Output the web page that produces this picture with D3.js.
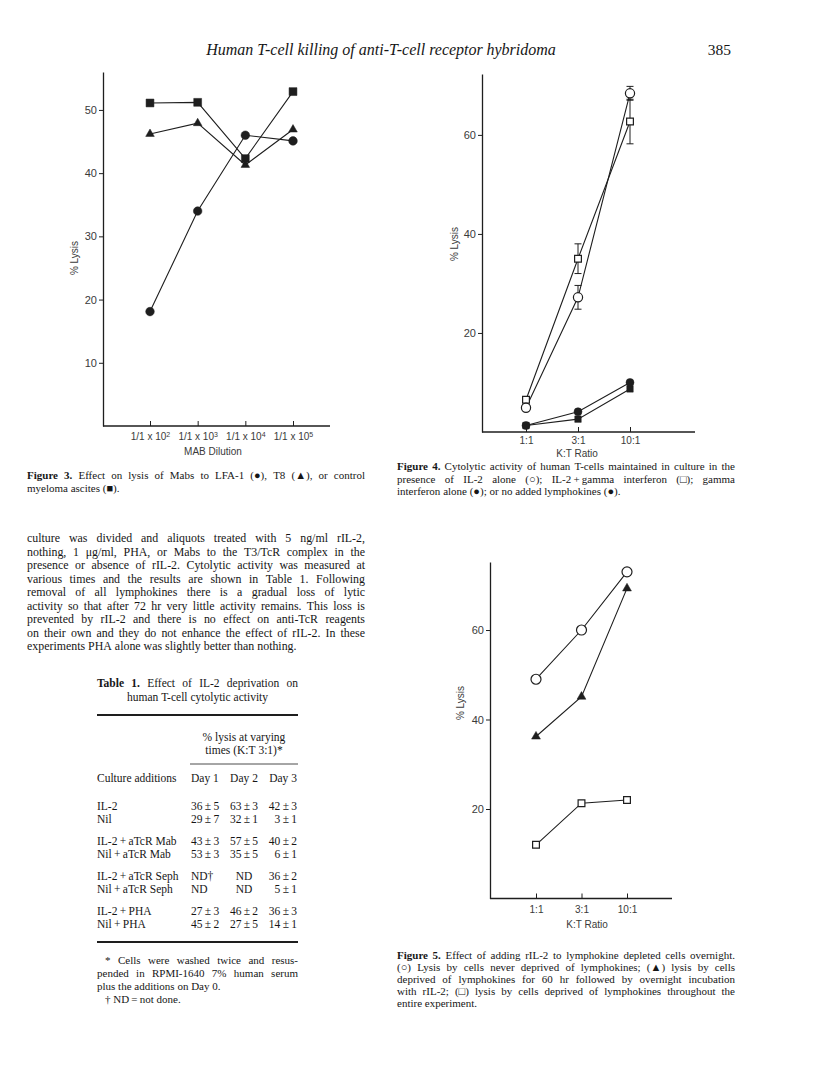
<!DOCTYPE html>
<html>
<head>
<meta charset="utf-8">
<script src="https://cdn.jsdelivr.net/npm/d3@7"></script>
<style>
  body { margin: 0; background: #fff; }
  svg { display: block; }
</style>
</head>
<body>
<svg id="page"></svg>
<script>
// ---- figure 3 data (% lysis vs MAB dilution) ----
const fig3Exponents = ["2", "3", "4", "5"];            // 1/1 x 10^n
const fig3LFA1 = [18.1, 34.0, 46.0, 45.1];             // filled circle
const fig3T8 = [46.2, 47.9, 41.3, 46.9];               // filled triangle
const fig3Control = [51.1, 51.2, 42.3, 52.9];          // filled square
const fig3YTicks = [10, 20, 30, 40, 50];

// ---- figure 4 data (% lysis vs K:T ratio) ----
const fig4Ratios = ["1:1", "3:1", "10:1"];
const fig4IL2 = [4.9, 27.2, 68.4];                     // open circle
const fig4IL2Err = [0, 2.4, 1.4];
const fig4IL2Gamma = [6.5, 35.0, 62.7];                // open square
const fig4IL2GammaErr = [0, 3.0, 4.5];
const fig4Gamma = [1.3, 4.1, 10.0];                    // filled circle
const fig4None = [1.3, 2.6, 8.7];                      // filled square
const fig4YTicks = [20, 40, 60];

// ---- figure 5 data ----
const fig5Ratios = ["1:1", "3:1", "10:1"];
const fig5Never = [49.0, 60.0, 73.0];                  // open circle
const fig5Restored = [36.2, 45.1, 69.3];               // filled triangle
const fig5Deprived = [12.0, 21.3, 22.0];               // open square
const fig5YTicks = [20, 40, 60];

// ---- table 1 ----
const tableRows = ["IL-2", "Nil", "IL-2\u2009+\u2009aTcR Mab", "Nil\u2009+\u2009aTcR Mab",
  "IL-2\u2009+\u2009aTcR Seph", "Nil\u2009+\u2009aTcR Seph", "IL-2\u2009+\u2009PHA", "Nil\u2009+\u2009PHA"];
const tableDay1 = ["36\u2009±\u20095", "29\u2009±\u20097", "43\u2009±\u20093", "53\u2009±\u20093", "ND†", "ND", "27\u2009±\u20093", "45\u2009±\u20092"];
const tableDay2 = ["63\u2009±\u20093", "32\u2009±\u20091", "57\u2009±\u20095", "35\u2009±\u20095", "ND", "ND", "46\u2009±\u20092", "27\u2009±\u20095"];
const tableDay3 = ["42\u2009±\u20093", "3\u2009±\u20091", "40\u2009±\u20092", "6\u2009±\u20091", "36\u2009±\u20092", "5\u2009±\u20091", "36\u2009±\u20093", "14\u2009±\u20091"];

// ---- running text ----
const bodyLines = [
  "culture was divided and aliquots treated with 5 ng/ml rIL-2,",
  "nothing, 1 μg/ml, PHA, or Mabs to the T3/TcR complex in the",
  "presence or absence of rIL-2. Cytolytic activity was measured at",
  "various times and the results are shown in Table 1. Following",
  "removal of all lymphokines there is a gradual loss of lytic",
  "activity so that after 72 hr very little activity remains. This loss is",
  "prevented by rIL-2 and there is no effect on anti-TcR reagents",
  "on their own and they do not enhance the effect of rIL-2. In these",
  "experiments PHA alone was slightly better than nothing."
];
const fig3Caption = [
  "Figure 3. Effect on lysis of Mabs to LFA-1 (●), T8 (▲), or control",
  "myeloma ascites (■)."
];
const fig4Caption = [
  "Figure 4. Cytolytic activity of human T-cells maintained in culture in the",
  "presence of IL-2 alone (○); IL-2\u2009+\u2009gamma interferon (□); gamma",
  "interferon alone (●); or no added lymphokines (●)."
];
const fig5Caption = [
  "Figure 5. Effect of adding rIL-2 to lymphokine depleted cells overnight.",
  "(○) Lysis by cells never deprived of lymphokines; (▲) lysis by cells",
  "deprived of lymphokines for 60 hr followed by overnight incubation",
  "with rIL-2; (□) lysis by cells deprived of lymphokines throughout the",
  "entire experiment."
];
const footnoteLines = [
  "* Cells were washed twice and resus-",
  "pended in RPMI-1640 7% human serum",
  "plus the additions on Day 0.",
  "† ND\u2009=\u2009not done."
];

const SERIF = "'Liberation Serif', 'Times New Roman', serif";
const SANS = "'Liberation Sans', Arial, sans-serif";
const INK = "#161616";
const LINE = "#1e1e1e";
const LABEL = "#3a3a3a";

const svg = d3.select("#page").attr("width", 816).attr("height", 1079);
svg.append("rect").attr("width", 816).attr("height", 1079).attr("fill", "#fff");

//one line of serif text, word by word so it can be justified
function textLine(g, str, x0, x1, y, o = {}) {
  const size = o.size || 11.5;
  const t = g.append("text")
    .attr("y", y)
    .style("font-family", SERIF)
    .style("font-size", size + "px")
    .style("font-style", o.italic ? "italic" : null)
    .style("fill", INK);
  const words = str.split(" ");
  const spans = words.map((w, i) => t.append("tspan")
    .style("font-weight", i < (o.bold || 0) ? "bold" : null)
    .text(w));
  const widths = spans.map(s => s.node().getComputedTextLength());
  const total = d3.sum(widths);
  let gap = size * 0.25;
  if (o.justify && words.length > 1) gap = (x1 - x0 - total) / (words.length - 1);
  const full = total + gap * (words.length - 1);
  let x = x0;
  if (o.align === "middle") x = (x0 + x1) / 2 - full / 2;
  if (o.align === "end") x = x1 - full;
  spans.forEach((s, i) => { s.attr("x", x); x += widths[i] + gap; });
}

function paragraph(lines, x0, x1, y0, lh, o = {}) {
  lines.forEach((l, i) => textLine(svg, l, x0, x1, y0 + i * lh, {
    size: o.size,
    justify: i < lines.length - 1,
    bold: i === 0 ? (o.bold || 0) : 0
  }));
}

//running head
textLine(svg, "Human T-cell killing of anti-T-cell receptor hybridoma", 27, 735, 55, { size: 16, italic: true, align: "middle" });
textLine(svg, "385", 600, 731, 55, { size: 15.5, align: "end" });

//generic line chart
function drawFigure(cfg) {
  const g = svg.append("g");
  const y = d3.scaleLinear().domain([0, cfg.yMax]).range([cfg.bottom, cfg.top]);
  const x = d3.scalePoint().domain(cfg.categories).range(cfg.xRange);

  //y axis
  const yAxis = d3.axisLeft(y)
    .tickValues(cfg.yTicks)
    .tickSizeInner(4)
    .tickSizeOuter(0)
    .tickPadding(2);
  const yg = g.append("g").attr("transform", `translate(${cfg.axisX},0)`).call(yAxis);
  yg.select(".domain").attr("stroke", LINE).attr("stroke-width", 1.3);
  yg.selectAll(".tick line").attr("stroke", LINE).attr("stroke-width", 1);
  yg.selectAll(".tick text")
    .style("font-family", SANS).style("font-size", "11px").style("fill", LABEL);

  //x axis (ticks point up into the plot)
  const xAxis = d3.axisBottom(x)
    .tickSizeInner(-5)
    .tickSizeOuter(0)
    .tickPadding(cfg.tickPad);
  const xg = g.append("g").attr("transform", `translate(0,${cfg.bottom})`).call(xAxis);
  xg.select(".domain").remove();
  xg.selectAll(".tick line").attr("stroke", LINE).attr("stroke-width", 1);
  xg.selectAll(".tick text")
    .style("font-family", SANS).style("font-size", "10px").style("fill", LABEL);
  if (cfg.tickFormat) xg.selectAll(".tick text").each(cfg.tickFormat);
  g.append("line")
    .attr("x1", cfg.axisX).attr("x2", cfg.right)
    .attr("y1", cfg.bottom).attr("y2", cfg.bottom)
    .attr("stroke", LINE).attr("stroke-width", 1.3);

  //axis titles
  g.append("text")
    .attr("x", cfg.xLabelX).attr("y", cfg.xLabelY)
    .attr("text-anchor", "middle")
    .style("font-family", SANS).style("font-size", "10px").style("fill", LABEL)
    .text(cfg.xLabel);
  g.append("text")
    .attr("transform", `translate(${cfg.yLabelX},${cfg.yLabelY}) rotate(-90)`)
    .attr("text-anchor", "middle")
    .style("font-family", SANS).style("font-size", "10px").style("fill", LABEL)
    .text("% Lysis");

  const line = d3.line().x(d => x(d.c)).y(d => y(d.v));
  cfg.series.forEach(s => {
    const pts = s.values.map((v, i) => ({ c: cfg.categories[i], v: v, e: s.errors ? s.errors[i] : 0 }));
    s.pts = pts;
    g.append("path").datum(pts)
      .attr("d", line)
      .attr("fill", "none")
      .attr("stroke", LINE)
      .attr("stroke-width", 1.1);
  });

  //error bars
  cfg.series.filter(s => s.errors).forEach(s => {
    const eb = g.selectAll(null).data(s.pts.filter(d => d.e > 0)).enter().append("g");
    eb.append("line")
      .attr("x1", d => x(d.c)).attr("x2", d => x(d.c))
      .attr("y1", d => y(d.v - d.e)).attr("y2", d => y(d.v + d.e))
      .attr("stroke", LINE).attr("stroke-width", 1);
    [-1, 1].forEach(sign => {
      eb.append("line")
        .attr("x1", d => x(d.c) - 3.5).attr("x2", d => x(d.c) + 3.5)
        .attr("y1", d => y(d.v + sign * d.e)).attr("y2", d => y(d.v + sign * d.e))
        .attr("stroke", LINE).attr("stroke-width", 1);
    });
  });

  //markers
  cfg.series.forEach(s => {
    const sym = d3.symbol().type(s.type).size(s.size);
    g.selectAll(null).data(s.pts).enter().append("path")
      .attr("d", sym)
      .attr("transform", d => `translate(${x(d.c)},${y(d.v)})`)
      .attr("fill", s.open ? "#fff" : LINE)
      .attr("stroke", LINE)
      .attr("stroke-width", s.open ? 1.2 : 0.5);
  });
}

drawFigure({
  categories: fig3Exponents,
  xRange: [150, 293],
  axisX: 103, top: 72, bottom: 426, right: 330,
  yMax: 56, yTicks: fig3YTicks, tickPad: 7,
  tickFormat: function (d) {
    const t = d3.select(this);
    t.text("1/1 x 10");
    t.append("tspan").attr("dy", "-0.45em").style("font-size", "7px").text(d);
  },
  xLabel: "MAB Dilution", xLabelX: 213, xLabelY: 455,
  yLabelX: 78, yLabelY: 258,
  series: [
    { values: fig3LFA1, type: d3.symbolCircle, size: Math.PI * 4.3 * 4.3 },
    { values: fig3T8, type: d3.symbolTriangle, size: 32 },
    { values: fig3Control, type: d3.symbolSquare, size: 62 }
  ]
});

drawFigure({
  categories: fig4Ratios,
  xRange: [526, 630],
  axisX: 482, top: 74, bottom: 432, right: 695,
  yMax: 72.3, yTicks: fig4YTicks, tickPad: 5,
  xLabel: "K:T Ratio", xLabelX: 577, xLabelY: 457,
  yLabelX: 458, yLabelY: 244,
  series: [
    { values: fig4None, type: d3.symbolSquare, size: 42 },
    { values: fig4Gamma, type: d3.symbolCircle, size: Math.PI * 4 * 4 },
    { values: fig4IL2Gamma, errors: fig4IL2GammaErr, type: d3.symbolSquare, size: 46, open: true },
    { values: fig4IL2, errors: fig4IL2Err, type: d3.symbolCircle, size: Math.PI * 4.6 * 4.6, open: true }
  ]
});

drawFigure({
  categories: fig5Ratios,
  xRange: [536, 627],
  axisX: 490, top: 562, bottom: 898.5, right: 672,
  yMax: 75.2, yTicks: fig5YTicks, tickPad: 7,
  xLabel: "K:T Ratio", xLabelX: 587, xLabelY: 928,
  yLabelX: 464, yLabelY: 703,
  series: [
    { values: fig5Never, type: d3.symbolCircle, size: Math.PI * 5 * 5, open: true },
    { values: fig5Restored, type: d3.symbolTriangle, size: 34 },
    { values: fig5Deprived, type: d3.symbolSquare, size: 46, open: true }
  ]
});

//captions and body text
paragraph(fig3Caption, 27, 365, 479, 13, { size: 11, bold: 2 });
paragraph(fig4Caption, 397, 735, 470, 12.5, { size: 11, bold: 2 });
paragraph(bodyLines, 27, 365, 542, 13.5, { size: 11.9 });
paragraph(fig5Caption, 397, 735, 959, 12, { size: 11, bold: 2 });

//table 1
const tL = 97, tR = 298;
textLine(svg, "Table 1. Effect of IL-2 deprivation on", tL, tR, 687, { size: 11.5, bold: 2, justify: true });
textLine(svg, "human T-cell cytolytic activity", tL, tR, 701, { size: 11.5, align: "middle" });
const rule = (x1, x2, yy, w) => svg.append("line")
  .attr("x1", x1).attr("x2", x2).attr("y1", yy).attr("y2", yy)
  .attr("stroke", LINE).attr("stroke-width", w);
rule(tL, tR, 715, 1.8);
textLine(svg, "% lysis at varying", 190, tR, 741, { size: 11.5, align: "middle" });
textLine(svg, "times (K:T 3:1)*", 190, tR, 754, { size: 11.5, align: "middle" });
rule(190, tR, 764, 0.8);
textLine(svg, "Culture additions", tL, tR, 782, { size: 11.5 });
textLine(svg, "Day 1", 191, tR, 782, { size: 11.5 });
textLine(svg, "Day 2", 190, tR, 782, { size: 11.5, align: "middle" });
textLine(svg, "Day 3", tL, 297, 782, { size: 11.5, align: "end" });

const rowY = tableRows.map((r, i) => 810 + i * 13.2 + Math.floor(i / 2) * 8.5);
tableRows.forEach((r, i) => {
  textLine(svg, r, tL, tR, rowY[i], { size: 11.5 });
  textLine(svg, tableDay1[i], 191, tR, rowY[i], { size: 11.5 });
  textLine(svg, tableDay2[i], 229, 259, rowY[i], { size: 11.5, align: "middle" });
  textLine(svg, tableDay3[i], tL, 297, rowY[i], { size: 11.5, align: "end" });
});
rule(tL, tR, 942, 1.8);

textLine(svg, footnoteLines[0], 105, tR, 964, { size: 11, justify: true });
textLine(svg, footnoteLines[1], tL, tR, 977, { size: 11, justify: true });
textLine(svg, footnoteLines[2], tL, tR, 990, { size: 11 });
textLine(svg, footnoteLines[3], 105, tR, 1003, { size: 11 });
</script>
</body>
</html>
